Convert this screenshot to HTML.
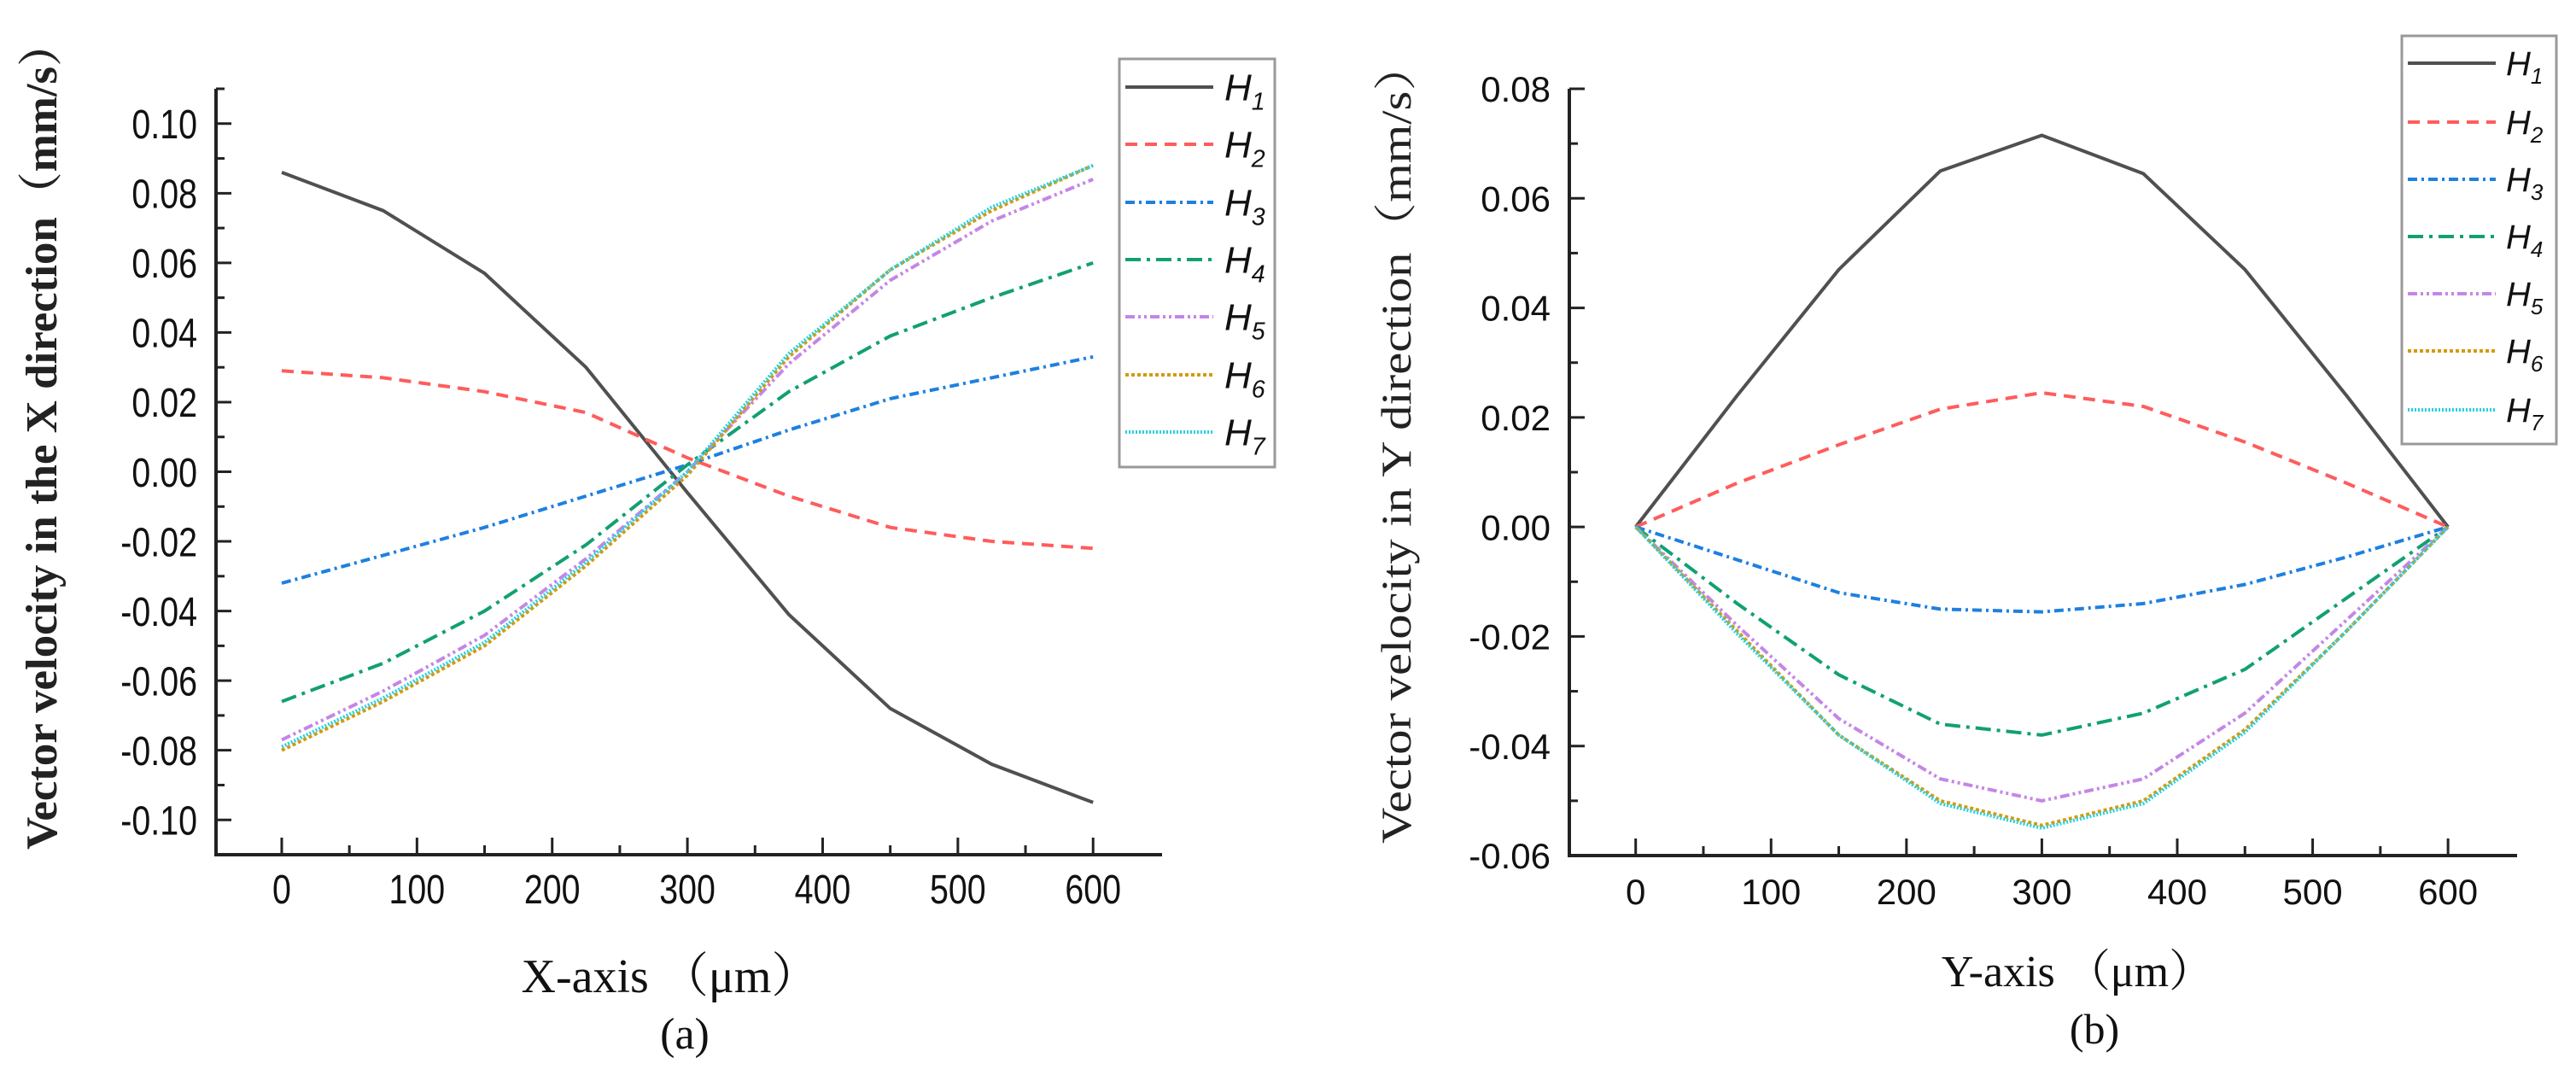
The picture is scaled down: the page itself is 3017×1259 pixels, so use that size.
<!DOCTYPE html>
<html><head><meta charset="utf-8">
<style>
html,body{margin:0;padding:0;background:#fff;}
svg{display:block;}
</style></head>
<body>
<svg id="fig" width="3017" height="1259" viewBox="0 0 3017 1259" xmlns="http://www.w3.org/2000/svg"></svg>
<script>
// ---- Data: panel (a) ----
const xA = [0,75,150,225,300,375,450,525,600];
const aH1 = [0.086,0.075,0.057,0.030,-0.006,-0.041,-0.068,-0.084,-0.095];
const aH2 = [0.029,0.027,0.023,0.017,0.004,-0.007,-0.016,-0.020,-0.022];
const aH3 = [-0.032,-0.024,-0.016,-0.007,0.002,0.012,0.021,0.027,0.033];
const aH4 = [-0.066,-0.055,-0.040,-0.021,0.002,0.023,0.039,0.050,0.060];
const aH5 = [-0.077,-0.063,-0.047,-0.025,0.000,0.031,0.055,0.072,0.084];
const aH6 = [-0.080,-0.066,-0.050,-0.027,-0.001,0.033,0.058,0.075,0.088];
const aH7 = [-0.079,-0.065,-0.049,-0.026,0.000,0.034,0.058,0.076,0.088];
const aYTicks = [0.10,0.08,0.06,0.04,0.02,0.00,-0.02,-0.04,-0.06,-0.08,-0.10];
// ---- Data: panel (b) ----
const xB = [0,75,150,225,300,375,450,525,600];
const bH1 = [0,0.024,0.047,0.065,0.0715,0.0645,0.047,0.024,0];
const bH2 = [0,0.008,0.015,0.0215,0.0245,0.022,0.0155,0.008,0];
const bH3 = [0,-0.006,-0.012,-0.015,-0.0155,-0.014,-0.0105,-0.0055,0];
const bH4 = [0,-0.014,-0.027,-0.036,-0.038,-0.034,-0.026,-0.013,0];
const bH5 = [0,-0.018,-0.035,-0.046,-0.050,-0.046,-0.034,-0.017,0];
const bH6 = [0,-0.019,-0.038,-0.050,-0.0545,-0.050,-0.037,-0.019,0];
const bH7 = [0,-0.0195,-0.038,-0.0505,-0.055,-0.0505,-0.0375,-0.019,0];
const bYTicks = [0.08,0.06,0.04,0.02,0.00,-0.02,-0.04,-0.06];
const xTicks = [0,100,200,300,400,500,600];
const seriesNames = ["1","2","3","4","5","6","7"];

const NS = "http://www.w3.org/2000/svg";
const svg = document.getElementById('fig');
const styles = [
  {c:"#505050", d:""},
  {c:"#ff5c5c", d:"14,9"},
  {c:"#1e80e0", d:"11,5,3,5"},
  {c:"#12a072", d:"18,7,4,7"},
  {c:"#c586e6", d:"11,4,3,4,3,4"},
  {c:"#d49a10", d:"4,3"},
  {c:"#22d2e2", d:"2,2"}
];
function el(tag, attrs, parent){
  const e = document.createElementNS(NS, tag);
  for (const k in attrs) e.setAttribute(k, attrs[k]);
  (parent||svg).appendChild(e);
  return e;
}
function panel(p){
  const g = el('g', {});
  
  
  const X = v => p.x0 + (v - p.xmin) / (p.xmax - p.xmin) * (p.x1 - p.x0);
  const Y = v => p.yb - (v - p.ymin) / (p.ymax - p.ymin) * (p.yb - p.yt);
  const ax = el('path', {d:`M${p.x0},${p.yt} L${p.x0},${p.yb} L${p.x1},${p.yb}`, fill:'none', stroke:'#222', 'stroke-width':4}, g);
  
  
  for (let v = 0; v <= 600; v += 50) {
    const major = v % 100 === 0;
    el('line', {x1:X(v), x2:X(v), y1:p.yb, y2:p.yb - (major?20:11), stroke:'#222', 'stroke-width':3}, g);
  }
  const sx = p.sx;
  xTicks.forEach(v => {
    const t = el('text', {x:X(v)/sx, y:p.yb + 57, transform:`scale(${sx},1)`, 'text-anchor':'middle', 'font-family':'Liberation Sans, sans-serif', 'font-size':p.tfs, fill:'#111'}, g);
    t.textContent = String(v);
    
    
  });
  const step = 0.01;
  for (let v = p.ymin; v <= p.ymax + 1e-9; v += step) {
    const k = Math.round(v / step);
    const major = k % 2 === 0;
    el('line', {x1:p.x0, x2:p.x0 + (major?18:10), y1:Y(v), y2:Y(v), stroke:'#222', 'stroke-width':3}, g);
  }
  p.yticks.forEach(v => {
    const t = el('text', {x:(p.x0 - 22)/sx, y:Y(v) + p.tfs*0.36, transform:`scale(${sx},1)`, 'text-anchor':'end', 'font-family':'Liberation Sans, sans-serif', 'font-size':p.tfs, fill:'#111'}, g);
    t.textContent = v.toFixed(2);
    
    
  });
  p.series.forEach((s, i) => {
    const d = p.xs.map((xv, j) => (j ? 'L' : 'M') + X(xv).toFixed(1) + ',' + Y(s[j]).toFixed(1)).join(' ');
    const pl = el('path', {d, fill:'none', stroke:styles[i].c, 'stroke-width':4, 'stroke-dasharray':styles[i].d}, g);
    
    
  });
  const lg = el('g', {}, g);
  
  
  el('rect', {x:p.lx0, y:p.ly0, width:p.lx1 - p.lx0, height:p.ly1 - p.ly0, fill:'#fff', stroke:'#999', 'stroke-width':3}, lg);
  seriesNames.forEach((n, i) => {
    const yy = p.ly[i];
    const e = el('g', {}, lg);
    
    
    el('line', {x1:p.llx0, x2:p.llx1, y1:yy, y2:yy, stroke:styles[i].c, 'stroke-width':4, 'stroke-dasharray':styles[i].d}, e);
    const t = el('text', {x:p.ltx, y:yy + p.lfs*0.35, 'font-family':'Liberation Sans, sans-serif', 'font-style':'italic', 'font-size':p.lfs, fill:'#111'}, e);
    t.textContent = 'H';
    const sub = el('tspan', {'font-size':p.lfs*0.65, dy:p.lfs*0.25}, t);
    sub.textContent = n;
  });
  const xt = el('text', {x:p.xlx, y:p.xly, 'text-anchor':'middle', 'font-family':'Liberation Serif, Noto Serif CJK SC, serif', 'font-size':p.xfs, fill:'#111'}, g);
  xt.textContent = p.xlabel;
  
  
  const yt = el('text', {x:0, y:0, transform:`translate(${p.ylx},${p.yly}) rotate(-90)`, 'text-anchor':'middle', 'font-family':'Liberation Serif, Noto Serif CJK SC, serif', 'font-size':p.afs, 'font-weight':p.yfw, fill:'#222', 'textLength':p.ylen, 'lengthAdjust':'spacingAndGlyphs'}, g);
  yt.textContent = p.ylabel;
  
  
  const cap = el('text', {x:p.capx, y:p.capy, 'text-anchor':'middle', 'font-family':'Liberation Serif, serif', 'font-size':p.afs, fill:'#111'}, g);
  cap.textContent = p.caption;
  
  
}
panel({name:'panel-a', x0:253, x1:1361, yt:104, yb:1001, xmin:-48.6, xmax:651, ymin:-0.11, ymax:0.11,
  xs:xA, series:[aH1,aH2,aH3,aH4,aH5,aH6,aH7], yticks:aYTicks, tfs:48, sx:0.82,
  lx0:1311, lx1:1493, ly0:69, ly1:547, ly:[102,169,237,304,371,439,506], llx0:1318, llx1:1421, ltx:1434, lfs:44,
  xlabel:'X-axis （μm）', xlx:785, xly:1162, xfs:56, ylabel:'Vector velocity in the X direction（mm/s）', ylx:66, yly:510, ylen:970, afs:52, yfw:'bold',
  caption:'(a)', capx:802, capy:1228});
panel({name:'panel-b', x0:1838, x1:2948, yt:104, yb:1002, xmin:-49, xmax:651, ymin:-0.06, ymax:0.08,
  xs:xB, series:[bH1,bH2,bH3,bH4,bH5,bH6,bH7], yticks:bYTicks, tfs:42, sx:1,
  lx0:2813, lx1:2994, ly0:42, ly1:520, ly:[74,143,210,277,344,411,480], llx0:2820, llx1:2923, ltx:2935, lfs:40,
  xlabel:'Y-axis （μm）', xlx:2433, xly:1155, xfs:52, ylabel:'Vector velocity in Y direction（mm/s）', ylx:1652, yly:518, ylen:940, afs:50, yfw:'normal',
  caption:'(b)', capx:2453, capy:1222});
</script>
</body></html>
